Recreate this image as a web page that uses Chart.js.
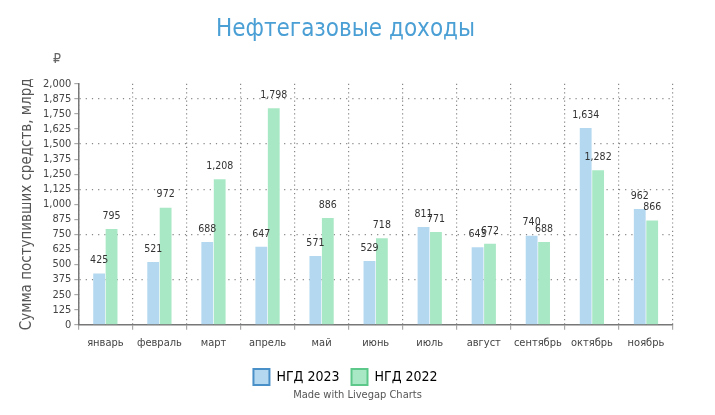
<!DOCTYPE html>
<html lang="ru">
<head>
    <meta charset="UTF-8">
    <title>Нефтегазовые доходы</title>
    <script src="https://cdn.jsdelivr.net/npm/chart.js"></script>
    <style>
        html, body { margin: 0; padding: 0; background: #fff; }
        #wrap { position: relative; width: 715px; height: 415px; }
        #rub { position: absolute; left: 53px; top: 50px; font: 14px 'DejaVu Sans Condensed', sans-serif; color: #666; }
        #credit { position: absolute; left: 0; width: 715px; top: 388px; text-align: center; font: 11px 'DejaVu Sans Condensed', sans-serif; color: #555; }
    </style>
</head>
<body>
<div id="wrap">
    <canvas id="chart" width="715" height="415"></canvas>
    <div id="rub">₽</div>
    <div id="credit">Made with Livegap Charts</div>
</div>
<script>
    const months = ["январь", "февраль", "март", "апрель", "май", "июнь", "июль", "август", "сентябрь", "октябрь", "ноябрь"];
    const ngd2023 = [425, 521, 688, 647, 571, 529, 811, 643, 740, 1634, 962];
    const ngd2022 = [795, 972, 1208, 1798, 886, 718, 771, 672, 688, 1282, 866];

    const FONT = "'DejaVu Sans Condensed', sans-serif";

    // value labels above each bar
    const barLabels = {
        id: "barLabels",
        afterDatasetsDraw(chart) {
            const ctx = chart.ctx;
            ctx.save();
            ctx.font = "10.5px " + FONT;
            ctx.fillStyle = "#333";
            ctx.textAlign = "center";
            ctx.textBaseline = "middle";
            chart.data.datasets.forEach((ds, i) => {
                chart.getDatasetMeta(i).data.forEach((bar, j) => {
                    ctx.fillText(ds.data[j].toLocaleString("en-US"), bar.x, bar.y - 13);
                });
            });
            ctx.restore();
        }
    };

    new Chart(document.getElementById("chart"), {
        type: "bar",
        data: {
            labels: months,
            datasets: [
                {
                    label: "НГД 2023",
                    data: ngd2023,
                    backgroundColor: "#b3d8f0",
                    borderColor: "#4a90c8",
                    borderWidth: 0
                },
                {
                    label: "НГД 2022",
                    data: ngd2022,
                    backgroundColor: "#a9e8c5",
                    borderColor: "#5cc98a",
                    borderWidth: 0
                }
            ]
        },
        options: {
            responsive: false,
            animation: false,
            categoryPercentage: 0.46,
            barPercentage: 0.95,
            layout: { padding: { left: 18, right: 42, top: 0, bottom: 20 } },
            plugins: {
                title: {
                    display: true,
                    text: "Нефтегазовые доходы",
                    color: "#4a9fd5",
                    font: { family: FONT, size: 24, weight: "normal" },
                    padding: { top: 15, bottom: 40 }
                },
                legend: {
                    position: "bottom",
                    labels: {
                        boxWidth: 16,
                        boxHeight: 16,
                        padding: 12,
                        color: "#333",
                        font: { family: FONT, size: 14 },
                        generateLabels(chart) {
                            return chart.data.datasets.map((ds, i) => ({
                                text: ds.label,
                                fillStyle: ds.backgroundColor,
                                strokeStyle: ds.borderColor,
                                lineWidth: 2,
                                datasetIndex: i
                            }));
                        }
                    }
                },
                tooltip: { enabled: false }
            },
            scales: {
                x: {
                    grid: {
                        offset: true,
                        color: "#888",
                        lineWidth: 1.2,
                        tickColor: "#aaa",
                        tickLength: 5
                    },
                    border: { color: "#777", width: 1.5, dash: [1.2, 3] },
                    ticks: {
                        color: "#444",
                        font: { family: FONT, size: 11 },
                        padding: 7,
                        autoSkip: false,
                        maxRotation: 0
                    }
                },
                y: {
                    min: 0,
                    max: 2000,
                    ticks: {
                        stepSize: 125,
                        autoSkip: false,
                        color: "#444",
                        font: { family: FONT, size: 11 },
                        padding: 3,
                        callback: v => v.toLocaleString("en-US")
                    },
                    grid: {
                        color: c => (c.tick && c.tick.value > 0 && c.tick.value % 375 === 0) ? "#888" : "transparent",
                        lineWidth: 1.2,
                        tickColor: "#aaa",
                        tickLength: 4
                    },
                    border: { color: "#777", width: 1.5, dash: [1.2, 5] },
                    title: {
                        display: true,
                        text: "Сумма поступивших средств, млрд",
                        color: "#555",
                        font: { family: FONT, size: 15 },
                        padding: { top: 0, bottom: 4 }
                    }
                }
            }
        },
        plugins: [barLabels]
    });
</script>
</body>
</html>
